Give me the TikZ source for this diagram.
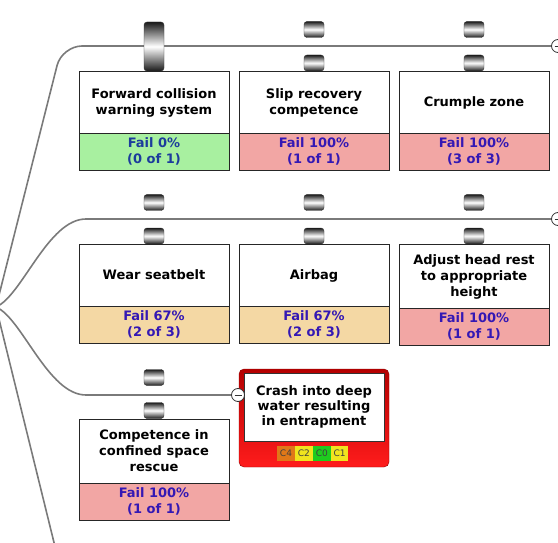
\documentclass[tikz,border=0pt]{standalone}
\usepackage{fontspec}
\setmainfont{DejaVu Sans}
\usetikzlibrary{positioning}
\definecolor{Wire}{HTML}{7A7A7A}
\definecolor{PassGreen}{HTML}{A8F0A0}
\definecolor{FailRed}{HTML}{F2A6A4}
\definecolor{PartTan}{HTML}{F4D8A4}
\definecolor{FailInk}{HTML}{3418B4}
\definecolor{PassInk}{HTML}{1C3C9C}
\definecolor{HazTop}{HTML}{B40000}
\definecolor{HazBot}{HTML}{FF1C1C}
\definecolor{ChipOrange}{HTML}{E07818}
\definecolor{ChipYellow}{HTML}{F0E41E}
\definecolor{ChipGreen}{HTML}{1ECC1E}

\begin{document}
\begin{tikzpicture}[x=1pt, y=-1pt,
  every node/.style={font=\fontsize{13}{16}\selectfont\bfseries},
  wire/.style={draw=Wire, line width=1.6pt},
  title/.style={draw=black!85, fill=white, minimum width=150pt, minimum height=62pt, inner sep=0pt, align=center,
    text depth=-3pt},
  status/.style={draw=black!85, minimum width=150pt, minimum height=37pt, inner sep=0pt, align=center, text=FailInk},
  knob/.style={draw=black!80, rounded corners=3pt, minimum width=20pt, minimum height=16pt, inner sep=0pt,
    top color=black!90, bottom color=black!90, middle color=white},
  toggle/.style={circle, draw=black!80, fill=white, minimum size=13pt, inner sep=0pt, line width=0.8pt,
    path picture={\draw[line width=0.8pt] ([xshift=-3.5pt]path picture bounding box.center) -- ([xshift=3.5pt]path picture bounding box.center);}},
  chip/.style={minimum width=17.5pt, minimum height=15pt, inner sep=0pt, text=black!75, font=\fontsize{9}{10}\selectfont}]
  \useasboundingbox (0,0) rectangle (558,543);
  \clip (0,0) rectangle (558,543);
  % Hazard box
  \node[draw=HazTop!80!black, rounded corners=5pt, minimum width=150pt, minimum height=98pt, inner sep=0pt,
    top color=HazTop, bottom color=HazBot] (haz) at (314,418) {};
  \node[draw=black!80, fill=white, minimum width=140pt, minimum height=68pt, inner sep=0pt, align=center,
    font=\fontsize{13}{15}\selectfont\bfseries] (hazt) at (314,407) {Crash into deep\\water resulting\\in entrapment};
  \node[chip, fill=ChipOrange] (k4) at (286,453.5) {C4};
  \node[chip, fill=ChipYellow, right=0pt of k4] (k2) {C2};
  \node[chip, fill=ChipGreen, right=0pt of k2] (k0) {C0};
  \node[chip, fill=ChipYellow, right=0pt of k0] (k1) {C1};
  % Toggles
  \node[toggle] (c1) at (558,46) {};
  \node[toggle] (c2) at (558,219) {};
  \node[toggle] (c3) at (238,395) {};
  % Wires
  \coordinate (root) at (-4,307);
  \draw[wire, rounded corners=20pt] (root) -- (62,46) -- (c1.west);
  \draw[wire] (root) .. controls (22,296) and (48,219) .. (86,219) -- (c2.west);
  \draw[wire] (root) .. controls (22,318) and (48,395) .. (86,395) -- (c3.west);
  \draw[wire, rounded corners=20pt] (root) -- (62,575) -- (300,575);
  % Knobs
  \node[knob, minimum height=49pt] (p1) at (154,46.5) {};
  \foreach \x/\n in {314/2, 474/3} {
    \node[knob] (p\n a) at (\x,29.5) {};
    \node[knob] (p\n b) at (\x,63) {};
  }
  \foreach \x/\n in {154/4, 314/5, 474/6} {
    \node[knob] (p\n a) at (\x,202.5) {};
    \node[knob] (p\n b) at (\x,236) {};
  }
  \node[knob] (p7a) at (154,377.5) {};
  \node[knob] (p7b) at (154,410.5) {};
  % Barrier boxes
  \node[title] (t1) at (154,102) {Forward collision\\warning system};
  \node[status, fill=PassGreen, text=PassInk, below=0pt of t1] (s1) {Fail 0\%\\(0 of 1)};
  \node[title] (t2) at (314,102) {Slip recovery\\competence};
  \node[status, fill=FailRed, below=0pt of t2] (s2) {Fail 100\%\\(1 of 1)};
  \node[title] (t3) at (474,102) {Crumple zone};
  \node[status, fill=FailRed, below=0pt of t3] (s3) {Fail 100\%\\(3 of 3)};
  \node[title] (t4) at (154,275) {Wear seatbelt};
  \node[status, fill=PartTan, below=0pt of t4] (s4) {Fail 67\%\\(2 of 3)};
  \node[title] (t5) at (314,275) {Airbag};
  \node[status, fill=PartTan, below=0pt of t5] (s5) {Fail 67\%\\(2 of 3)};
  \node[title, minimum height=64pt] (t6) at (474,276) {Adjust head rest\\to appropriate\\height};
  \node[status, fill=FailRed, below=0pt of t6] (s6) {Fail 100\%\\(1 of 1)};
  \node[title, minimum height=64pt] (t7) at (154,451) {Competence in\\confined space\\rescue};
  \node[status, fill=FailRed, below=0pt of t7] (s7) {Fail 100\%\\(1 of 1)};
\end{tikzpicture}
\end{document}
